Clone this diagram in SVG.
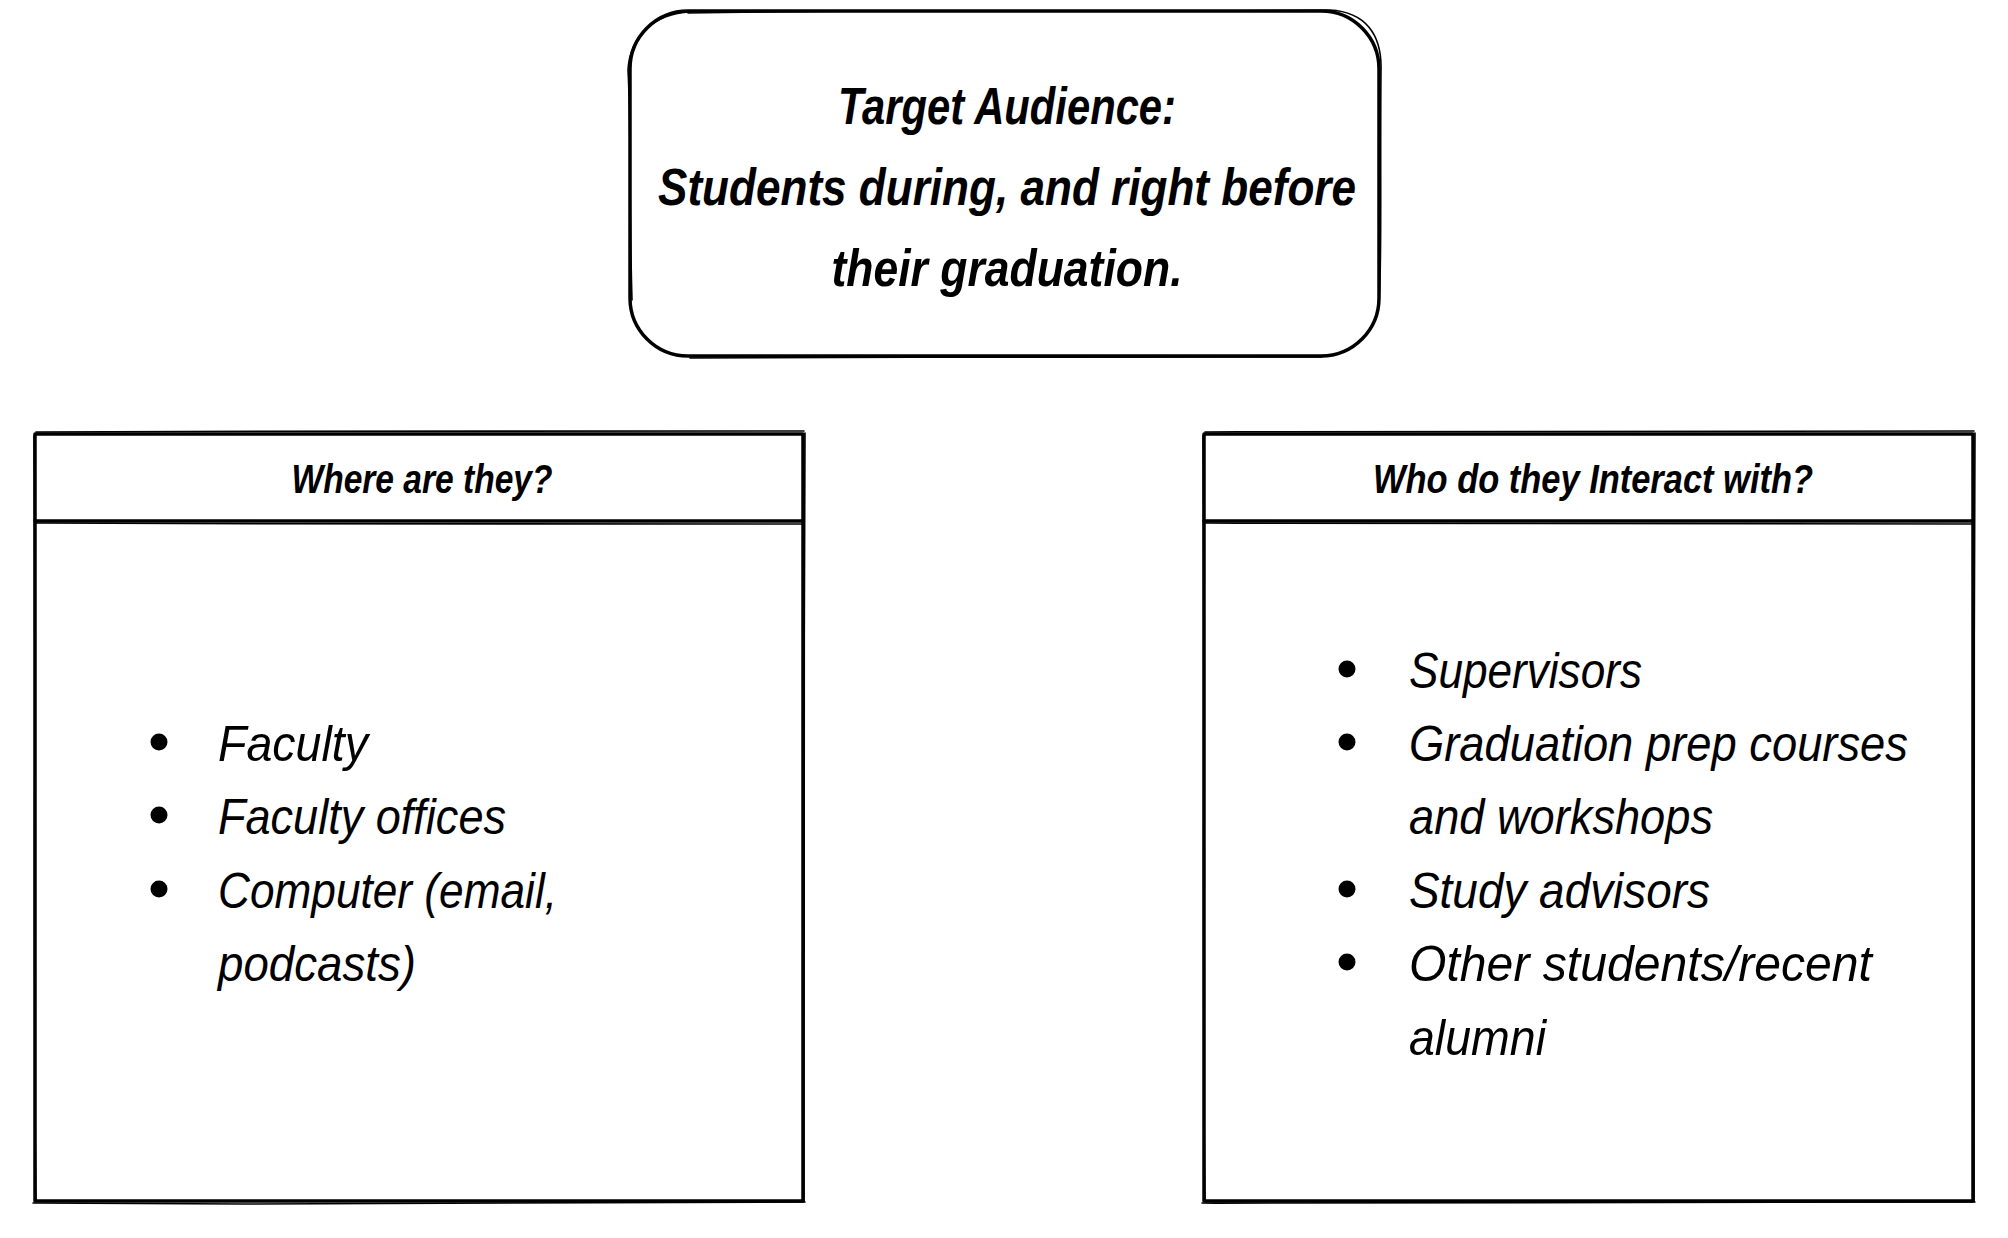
<svg xmlns="http://www.w3.org/2000/svg" width="2008" height="1238" viewBox="0 0 2008 1238">
<style>
.s{fill:none;stroke:#000;stroke-width:3.5;stroke-linecap:round;stroke-linejoin:round}
.s2{fill:none;stroke:#000;stroke-width:1.6;stroke-linecap:round;stroke-linejoin:round}
.t{font-family:"Liberation Sans",Arial,sans-serif;font-style:italic;fill:#000}
.big{font-size:52px;font-weight:bold;text-anchor:middle}
.hd{font-size:40px;font-weight:bold;text-anchor:middle}
.li{font-size:50px}
.b{fill:#000}
</style>
<rect width="2008" height="1238" fill="#fff"/>
<g id="target">
<rect x="630" y="11" width="749" height="345" rx="58" ry="58" fill="#fff" class="s"/>
<path class="s2" d="M688,13 C900,9 1150,12 1330,10 C1365,12 1382,34 1381,70 C1380,180 1382,270 1379,300"/>
<path class="s2" d="M632,300 C629,200 631,120 628,70 C630,35 655,14 690,12"/>
<path class="s2" d="M690,358 C900,356 1150,359 1322,357"/>
<text class="t big" x="1007" y="124" textLength="338" lengthAdjust="spacingAndGlyphs">Target Audience:</text>
<text class="t big" x="1007" y="205" textLength="698" lengthAdjust="spacingAndGlyphs">Students during, and right before</text>
<text class="t big" x="1007" y="286" textLength="351" lengthAdjust="spacingAndGlyphs">their graduation.</text>
</g>
<g id="where">
<rect x="35" y="434" width="768" height="767" fill="#fff" class="s"/>
<path class="s2" d="M36,432 C300,430 600,433 804,431 M805,433 C803,700 806,1000 804,1202 M33,1203 C300,1205 600,1204 805,1202 M34,436 C36,700 33,1000 36,1200"/>
<path class="s" d="M35,521 L803,521"/>
<path class="s2" d="M36,523 C300,525 600,522 802,524"/>
<text class="t hd" x="422" y="493" textLength="261" lengthAdjust="spacingAndGlyphs">Where are they?</text>
<circle class="b" cx="159" cy="742" r="8.5"/>
<circle class="b" cx="159" cy="815" r="8.5"/>
<circle class="b" cx="159" cy="889" r="8.5"/>
<text class="t li" x="218" y="761" textLength="150" lengthAdjust="spacingAndGlyphs">Faculty</text>
<text class="t li" x="218" y="834" textLength="288" lengthAdjust="spacingAndGlyphs">Faculty offices</text>
<text class="t li" x="218" y="908" textLength="339" lengthAdjust="spacingAndGlyphs">Computer (email,</text>
<text class="t li" x="218" y="981" textLength="198" lengthAdjust="spacingAndGlyphs">podcasts)</text>
</g>
<g id="who">
<rect x="1204" y="434" width="769" height="767" fill="#fff" class="s"/>
<path class="s2" d="M1205,432 C1500,430 1800,433 1974,431 M1975,433 C1973,700 1976,1000 1974,1202 M1202,1203 C1500,1205 1800,1204 1975,1202 M1203,436 C1205,700 1202,1000 1205,1200"/>
<path class="s" d="M1204,521 L1973,521"/>
<path class="s2" d="M1205,523 C1500,525 1800,522 1972,524"/>
<text class="t hd" x="1593" y="493" textLength="440" lengthAdjust="spacingAndGlyphs">Who do they Interact with?</text>
<circle class="b" cx="1347" cy="669" r="8.5"/>
<circle class="b" cx="1347" cy="742" r="8.5"/>
<circle class="b" cx="1347" cy="889" r="8.5"/>
<circle class="b" cx="1347" cy="962" r="8.5"/>
<text class="t li" x="1409" y="688" textLength="233" lengthAdjust="spacingAndGlyphs">Supervisors</text>
<text class="t li" x="1409" y="761" textLength="499" lengthAdjust="spacingAndGlyphs">Graduation prep courses</text>
<text class="t li" x="1409" y="834" textLength="304" lengthAdjust="spacingAndGlyphs">and workshops</text>
<text class="t li" x="1409" y="908" textLength="301" lengthAdjust="spacingAndGlyphs">Study advisors</text>
<text class="t li" x="1409" y="981" textLength="463" lengthAdjust="spacingAndGlyphs">Other students/recent</text>
<text class="t li" x="1409" y="1055" textLength="137" lengthAdjust="spacingAndGlyphs">alumni</text>
</g>
<g id="connectors"></g>
</svg>
